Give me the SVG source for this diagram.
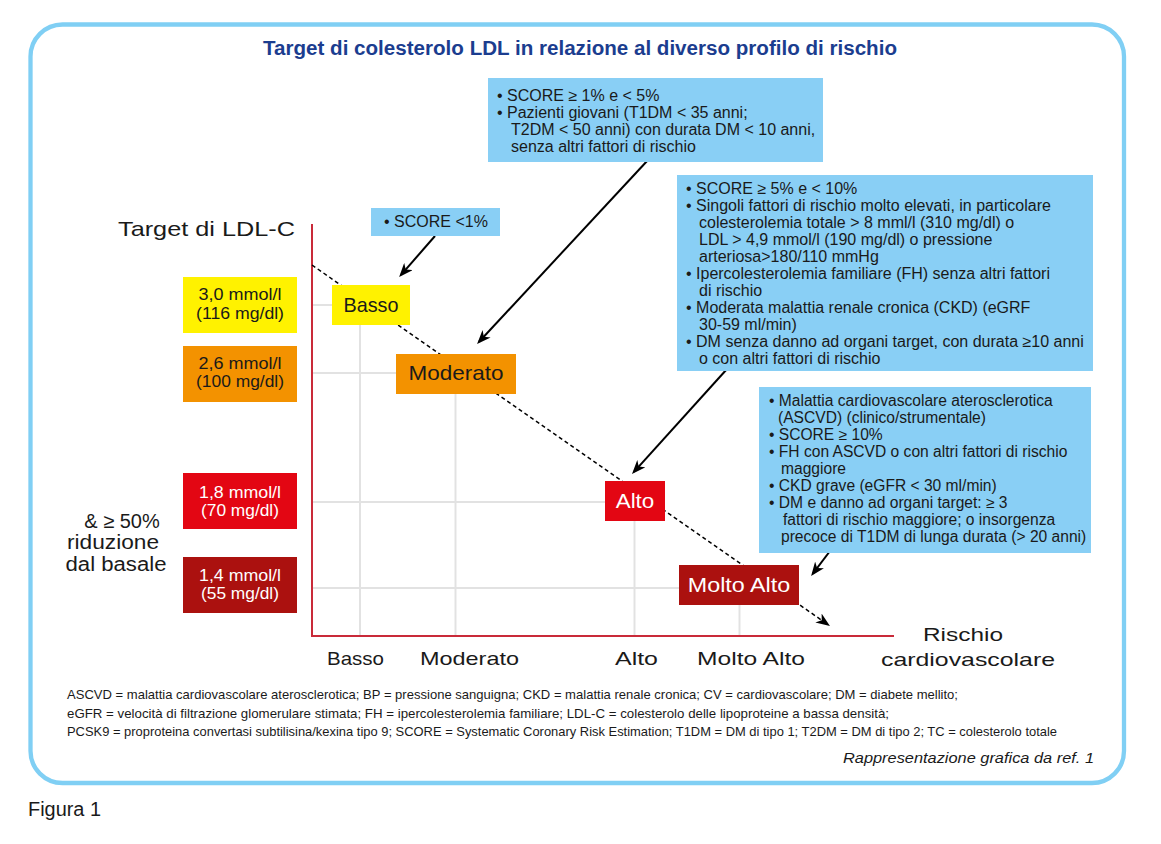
<svg xmlns="http://www.w3.org/2000/svg" width="1161" height="844" viewBox="0 0 1161 844">
<style>
text{font-family:"Liberation Sans",Arial,sans-serif;fill:#1a1a1a}
.title{font-weight:bold;font-size:19.5px;fill:#1b3d8f}
.info{fill:#89cff5}
.it{font-size:16px}
.it4{font-size:15.6px}
.grid{stroke:#e2e2e2;stroke-width:2;fill:none}
.axis{stroke:#c92a39;stroke-width:2;fill:none}
.arr{stroke:#000;stroke-width:2;fill:none}
.dash{stroke:#000;stroke-width:1.5;stroke-dasharray:4 3;fill:none}
.node{font-size:21px;text-anchor:middle}
.tgt{font-size:16px;text-anchor:middle}
.ax{font-size:19px;text-anchor:middle}
.foot{font-family:"Liberation Sans Narrow","Liberation Sans",Arial,sans-serif;font-size:13.5px}
.w{fill:#fff}
</style>
<defs>
<marker id="ah" viewBox="0 0 14 11" refX="11" refY="5.5" markerWidth="14" markerHeight="11" markerUnits="userSpaceOnUse" orient="auto">
<path d="M0,0 L14,5.5 L0,11 L4,5.5 z" fill="#000"/>
</marker>
</defs>
<rect width="1161" height="844" fill="#fff"/>
<rect x="30.5" y="24.5" width="1093.5" height="758.5" rx="32" ry="32" fill="none" stroke="#80cff4" stroke-width="4.3"/>
<text class="title" x="580" y="55" text-anchor="middle" textLength="634" lengthAdjust="spacingAndGlyphs">Target di colesterolo LDL in relazione al diverso profilo di rischio</text>

<g id="grid">
<line class="grid" x1="312" y1="305" x2="332" y2="305"/>
<line class="grid" x1="312" y1="373" x2="396" y2="373"/>
<line class="grid" x1="312" y1="502" x2="605" y2="502"/>
<line class="grid" x1="312" y1="588" x2="679" y2="588"/>
<line class="grid" x1="360" y1="325" x2="360" y2="636"/>
<line class="grid" x1="455.5" y1="394" x2="455.5" y2="636"/>
<line class="grid" x1="634.5" y1="521" x2="634.5" y2="636"/>
<line class="grid" x1="739.5" y1="605" x2="739.5" y2="636"/>
</g>
<g id="axes">
<line class="axis" x1="312" y1="224" x2="312" y2="637"/>
<line class="axis" x1="311" y1="636" x2="894" y2="636"/>
<text x="118" y="236" font-size="21" textLength="177" lengthAdjust="spacingAndGlyphs">Target di LDL-C</text>
<text class="ax" x="355.5" y="665" textLength="57" lengthAdjust="spacingAndGlyphs">Basso</text>
<text class="ax" x="469.5" y="665" textLength="99" lengthAdjust="spacingAndGlyphs">Moderato</text>
<text class="ax" x="636.5" y="665" textLength="43" lengthAdjust="spacingAndGlyphs">Alto</text>
<text class="ax" x="751" y="665" textLength="108" lengthAdjust="spacingAndGlyphs">Molto Alto</text>
<text class="ax" x="963" y="641" font-size="20" textLength="80" lengthAdjust="spacingAndGlyphs">Rischio</text>
<text class="ax" x="968" y="666" font-size="20" textLength="174" lengthAdjust="spacingAndGlyphs">cardiovascolare</text>
</g>

<g id="connectors">
<line class="dash" x1="312" y1="265" x2="827.5" y2="624.3" marker-end="url(#ah)"/>
<line class="arr" x1="435" y1="236" x2="401.1" y2="274.8" marker-end="url(#ah)"/>
<line class="arr" x1="648" y1="160" x2="479.1" y2="341.8" marker-end="url(#ah)"/>
<line class="arr" x1="727" y1="369" x2="634" y2="471.8" marker-end="url(#ah)"/>
<line class="arr" x1="830" y1="551" x2="812.9" y2="573.7" marker-end="url(#ah)"/>
</g>

<g id="node-basso">
<rect x="332" y="285" width="78" height="40" fill="#fff200"/>
<text class="node" x="371" y="311.5" textLength="55" lengthAdjust="spacingAndGlyphs">Basso</text>
</g>
<g id="node-moderato">
<rect x="396" y="354" width="120" height="40" fill="#f39200"/>
<text class="node" x="456" y="380" textLength="95" lengthAdjust="spacingAndGlyphs">Moderato</text>
</g>
<g id="node-alto">
<rect x="605" y="481" width="60" height="40" fill="#e30613"/>
<text class="node w" x="635" y="508" textLength="38.6" lengthAdjust="spacingAndGlyphs">Alto</text>
</g>
<g id="node-moltoalto">
<rect x="679" y="565" width="120" height="40" fill="#ab110f"/>
<text class="node w" x="739" y="592" textLength="102.5" lengthAdjust="spacingAndGlyphs">Molto Alto</text>
</g>

<g id="target-30">
<rect x="183" y="277" width="114" height="56" fill="#fff200"/>
<text class="tgt" x="240" y="300" textLength="83" lengthAdjust="spacingAndGlyphs">3,0 mmol/l</text>
<text class="tgt" x="240" y="318.5" textLength="88" lengthAdjust="spacingAndGlyphs">(116 mg/dl)</text>
</g>
<g id="target-26">
<rect x="183" y="346" width="114" height="56" fill="#f39200"/>
<text class="tgt" x="240" y="368.5" textLength="83" lengthAdjust="spacingAndGlyphs">2,6 mmol/l</text>
<text class="tgt" x="240" y="387" textLength="88" lengthAdjust="spacingAndGlyphs">(100 mg/dl)</text>
</g>
<g id="target-18">
<rect x="183" y="473" width="114" height="56" fill="#e30613"/>
<text class="tgt w" x="240" y="497.5" textLength="82" lengthAdjust="spacingAndGlyphs">1,8 mmol/l</text>
<text class="tgt w" x="240" y="515.5" textLength="78" lengthAdjust="spacingAndGlyphs">(70 mg/dl)</text>
</g>
<g id="target-14">
<rect x="183" y="557" width="114" height="56" fill="#ab110f"/>
<text class="tgt w" x="240" y="581" textLength="82" lengthAdjust="spacingAndGlyphs">1,4 mmol/l</text>
<text class="tgt w" x="240" y="599" textLength="78" lengthAdjust="spacingAndGlyphs">(55 mg/dl)</text>
</g>
<g id="reduction-note">
<text x="122" y="528" font-size="20" text-anchor="middle">&amp; ≥ 50%</text>
<text x="113" y="549" font-size="20" text-anchor="middle" textLength="92" lengthAdjust="spacingAndGlyphs">riduzione</text>
<text x="116" y="571" font-size="20" text-anchor="middle" textLength="101" lengthAdjust="spacingAndGlyphs">dal basale</text>
</g>

<g id="info-basso">
<rect class="info" x="371" y="208" width="129" height="28"/>
<text class="it" x="384" y="227" font-size="15">• SCORE &lt;1%</text>
</g>
<g id="info-moderato">
<rect class="info" x="488" y="78" width="335" height="84"/>
<text class="it" x="497" y="101">• SCORE ≥ 1% e &lt; 5%</text>
<text class="it" x="497" y="118">• Pazienti giovani (T1DM &lt; 35 anni;</text>
<text class="it" x="511" y="135">T2DM &lt; 50 anni) con durata DM &lt; 10 anni,</text>
<text class="it" x="511" y="152">senza altri fattori di rischio</text>
</g>
<g id="info-alto">
<rect class="info" x="677" y="175" width="416" height="196"/>
<text class="it" x="686" y="194">• SCORE ≥ 5% e &lt; 10%</text>
<text class="it" x="686" y="211">• Singoli fattori di rischio molto elevati, in particolare</text>
<text class="it" x="699" y="228">colesterolemia totale &gt; 8 mml/l (310 mg/dl) o</text>
<text class="it" x="699" y="245">LDL &gt; 4,9 mmol/l (190 mg/dl) o pressione</text>
<text class="it" x="699" y="262">arteriosa&gt;180/110 mmHg</text>
<text class="it" x="686" y="279">• Ipercolesterolemia familiare (FH) senza altri fattori</text>
<text class="it" x="699" y="296">di rischio</text>
<text class="it" x="686" y="313">• Moderata malattia renale cronica (CKD) (eGRF</text>
<text class="it" x="699" y="330">30-59 ml/min)</text>
<text class="it" x="686" y="347">• DM senza danno ad organi target, con durata ≥10 anni</text>
<text class="it" x="699" y="364">o con altri fattori di rischio</text>
</g>
<g id="info-moltoalto">
<rect class="info" x="759" y="387" width="332" height="166"/>
<text class="it4" x="769" y="406">• Malattia cardiovascolare aterosclerotica</text>
<text class="it4" x="778" y="423">(ASCVD) (clinico/strumentale)</text>
<text class="it4" x="769" y="440">• SCORE ≥ 10%</text>
<text class="it4" x="769" y="457">• FH con ASCVD o con altri fattori di rischio</text>
<text class="it4" x="781" y="474">maggiore</text>
<text class="it4" x="769" y="491">• CKD grave (eGFR &lt; 30 ml/min)</text>
<text class="it4" x="769" y="508">• DM e danno ad organi target: ≥ 3</text>
<text class="it4" x="783" y="525">fattori di rischio maggiore; o insorgenza</text>
<text class="it4" x="781" y="542">precoce di T1DM di lunga durata (&gt; 20 anni)</text>
</g>

<g id="footnotes">
<text class="foot" x="67" y="699" textLength="891" lengthAdjust="spacingAndGlyphs">ASCVD = malattia cardiovascolare aterosclerotica; BP = pressione sanguigna; CKD = malattia renale cronica; CV = cardiovascolare; DM = diabete mellito;</text>
<text class="foot" x="67" y="717.5" textLength="822" lengthAdjust="spacingAndGlyphs">eGFR = velocità di filtrazione glomerulare stimata; FH = ipercolesterolemia familiare; LDL-C = colesterolo delle lipoproteine a bassa densità;</text>
<text class="foot" x="67" y="736" textLength="990" lengthAdjust="spacingAndGlyphs">PCSK9 = proproteina convertasi subtilisina/kexina tipo 9; SCORE = Systematic Coronary Risk Estimation; T1DM = DM di tipo 1; T2DM = DM di tipo 2; TC = colesterolo totale</text>
<text x="1094" y="763" font-size="15" font-style="italic" text-anchor="end" textLength="251" lengthAdjust="spacingAndGlyphs">Rappresentazione grafica da ref. 1</text>
</g>
<text x="28" y="816" font-size="19.5" textLength="73" lengthAdjust="spacingAndGlyphs">Figura 1</text>
</svg>
